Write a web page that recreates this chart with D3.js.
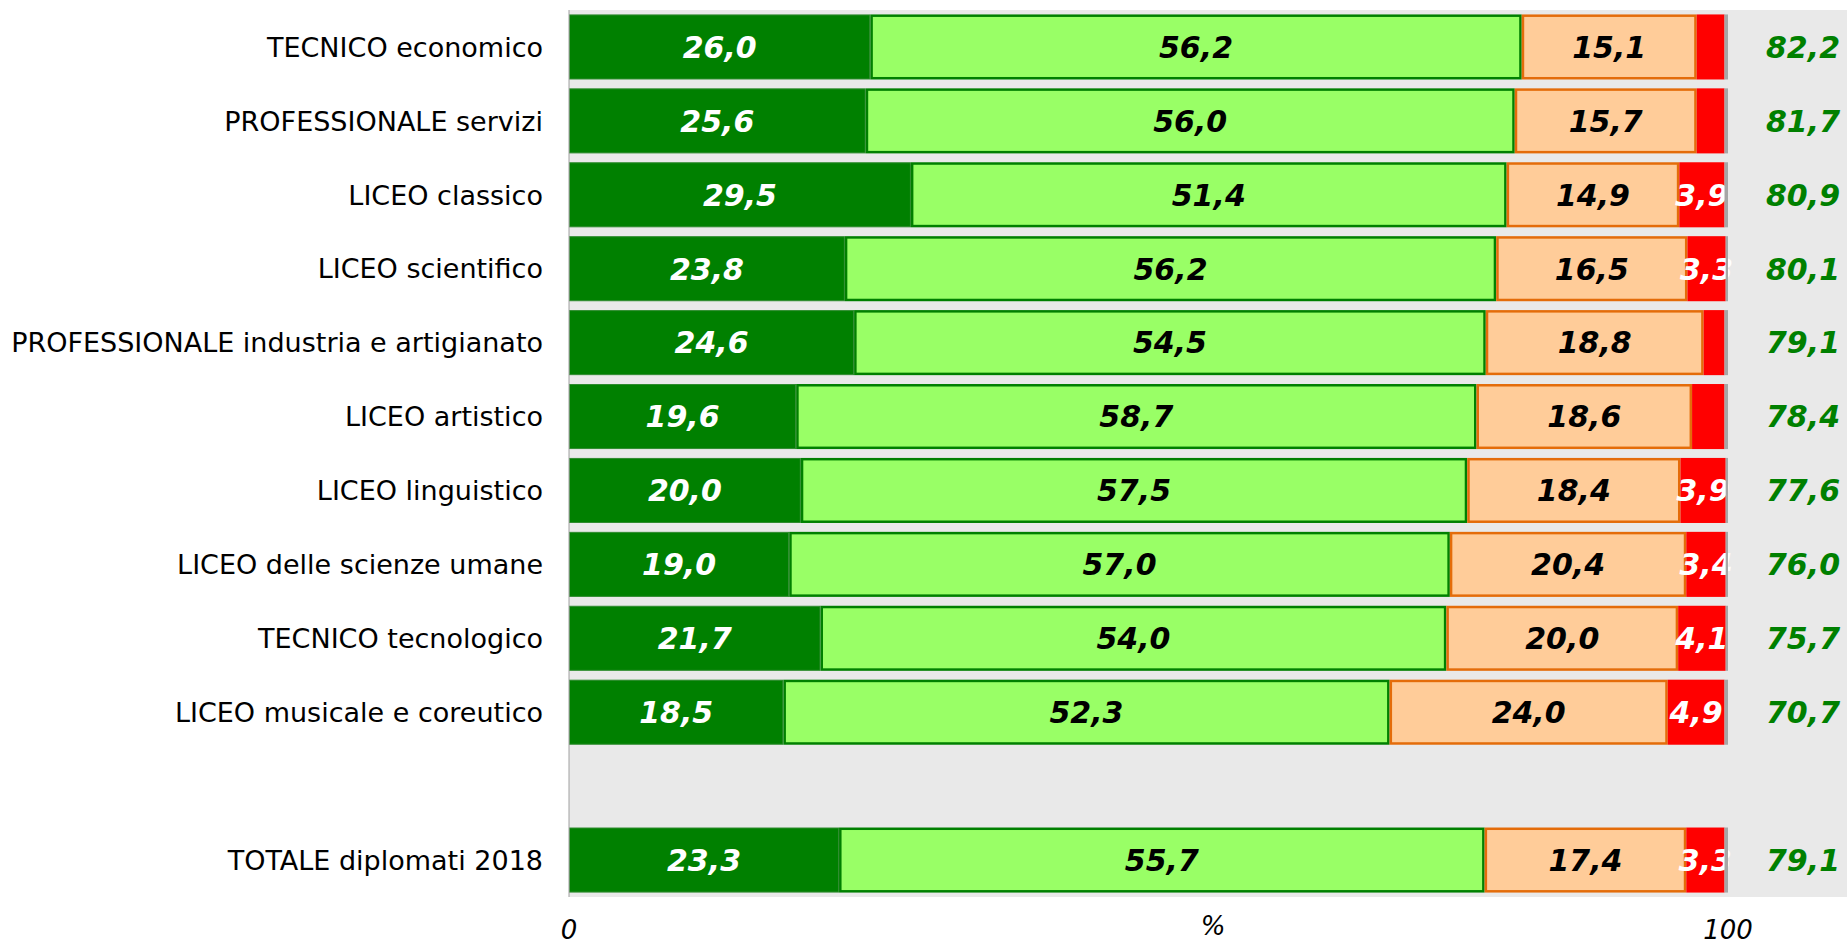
<!DOCTYPE html>
<html>
<head>
<meta charset="utf-8">
<script src="https://cdn.jsdelivr.net/npm/d3@7"></script>
<style>
  body { margin: 0; background: #fff; }
  svg text { font-family: "DejaVu Sans", Verdana, sans-serif; }
</style>
</head>
<body>
<div class="chart"></div>
<script>
const categories = [
  "TECNICO economico",
  "PROFESSIONALE servizi",
  "LICEO classico",
  "LICEO scientifico",
  "PROFESSIONALE industria e artigianato",
  "LICEO artistico",
  "LICEO linguistico",
  "LICEO delle scienze umane",
  "TECNICO tecnologico",
  "LICEO musicale e coreutico",
  "",
  "TOTALE diplomati 2018"
];

// "" is the empty slot between the schools and the total
const molto       = [26.0, 25.6, 29.5, 23.8, 24.6, 19.6, 20.0, 19.0, 21.7, 18.5, null, 23.3];
const abbastanza  = [56.2, 56.0, 51.4, 56.2, 54.5, 58.7, 57.5, 57.0, 54.0, 52.3, null, 55.7];
const poco        = [15.1, 15.7, 14.9, 16.5, 18.8, 18.6, 18.4, 20.4, 20.0, 24.0, null, 17.4];
const perNulla    = [2.4, 2.4, 3.9, 3.3, 1.8, 2.8, 3.9, 3.4, 4.1, 4.9, null, 3.3];
const nonRisponde = [0.3, 0.3, 0.3, 0.2, 0.3, 0.3, 0.2, 0.2, 0.2, 0.3, null, 0.3];
const soddisfatti = [82.2, 81.7, 80.9, 80.1, 79.1, 78.4, 77.6, 76.0, 75.7, 70.7, null, 79.1];
const xTicks = [0, 100];

const W = 1847, H = 944;
const plot = { left: 569, right: 1728, top: 10, bottom: 897 };

const series = [
  { key: "molto", values: molto, fill: "#008000", stroke: "#2e8b2e", text: "#fff", sw: 1 },
  { key: "abbastanza", values: abbastanza, fill: "#99ff66", stroke: "#008000", text: "#000", sw: 2.5 },
  { key: "poco", values: poco, fill: "#ffcc99", stroke: "#e46c0a", text: "#000", sw: 2.5 },
  { key: "perNulla", values: perNulla, fill: "#ff0000", stroke: "none", text: "#fff", sw: 0 },
  { key: "nonRisponde", values: nonRisponde, fill: "#a6a6a6", stroke: "none", text: null, sw: 0 }
];

const svg = d3.select(".chart").append("svg")
  .attr("width", W)
  .attr("height", H);

const x = d3.scaleLinear().domain([0, 100]).range([plot.left, plot.right]);
const y = d3.scaleBand()
  .domain(categories.map((c, i) => i))
  .range([plot.top, plot.bottom])
  .paddingInner(0.12)
  .paddingOuter(0.06);

const fmt = v => d3.format(".1f")(v).replace(".", ",");

// plot background
svg.append("rect")
  .attr("x", plot.left)
  .attr("y", plot.top)
  .attr("width", W - plot.left)
  .attr("height", plot.bottom - plot.top)
  .attr("fill", "#e9e9e9");

const rows = categories.map((c, i) => i).filter(i => molto[i] !== null);

rows.forEach(i => {
  let acc = 0;
  const g = svg.append("g");
  series.forEach(s => {
    const v = s.values[i];
    const x0 = x(acc), x1 = x(acc + v);
    acc += v;
    const inset = s.sw / 2;
    g.append("rect")
      .attr("x", x0 + inset)
      .attr("y", y(i) + inset)
      .attr("width", Math.max(0, x1 - x0 - s.sw))
      .attr("height", y.bandwidth() - s.sw)
      .attr("fill", s.fill)
      .attr("stroke", s.stroke)
      .attr("stroke-width", s.sw);
    if (s.text && (s.key !== "perNulla" || v >= 3)) {
      g.append("text")
        .attr("x", (x0 + x1) / 2)
        .attr("y", y(i) + y.bandwidth() / 2)
        .attr("dy", "0.36em")
        .attr("text-anchor", "middle")
        .style("font-size", "30px")
        .style("font-weight", "bold")
        .style("font-style", "italic")
        .attr("fill", s.text)
        .text(fmt(v));
    }
  });

  // total satisfied
  svg.append("text")
    .attr("x", 1803)
    .attr("y", y(i) + y.bandwidth() / 2)
    .attr("dy", "0.36em")
    .attr("text-anchor", "middle")
    .style("font-size", "30px")
    .style("font-weight", "bold")
    .style("font-style", "italic")
    .attr("fill", "#008000")
    .text(fmt(soddisfatti[i]));
});

// category labels
svg.append("g")
  .selectAll("text")
  .data(rows)
  .join("text")
  .attr("x", 543)
  .attr("y", i => y(i) + y.bandwidth() / 2)
  .attr("dy", "0.36em")
  .attr("text-anchor", "end")
  .style("font-size", "27px")
  .attr("fill", "#000")
  .text(i => categories[i]);

// vertical axis line
svg.append("line")
  .attr("x1", plot.left)
  .attr("x2", plot.left)
  .attr("y1", plot.top)
  .attr("y2", plot.bottom)
  .attr("stroke", "#a0a0a0")
  .attr("stroke-width", 1);

// x ticks
svg.append("g")
  .selectAll("text")
  .data(xTicks)
  .join("text")
  .attr("x", d => x(d))
  .attr("y", 939)
  .attr("text-anchor", "middle")
  .style("font-size", "26px")
  .style("font-style", "italic")
  .text(d => d);

svg.append("text")
  .attr("x", 1213)
  .attr("y", 935)
  .attr("text-anchor", "middle")
  .style("font-size", "26px")
  .style("font-style", "italic")
  .text("%");
</script>
</body>
</html>
